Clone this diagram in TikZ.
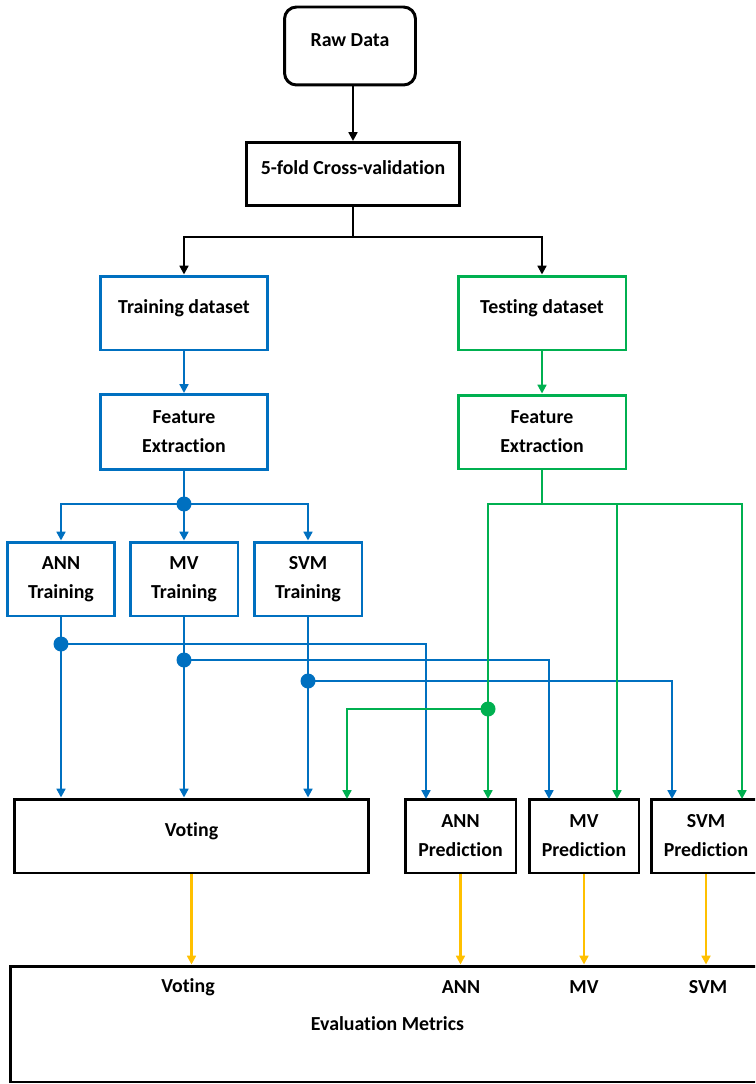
\documentclass[tikz,border=0pt]{standalone}
\usepackage{fontspec}
\setmainfont{Carlito}[Ligatures=NoCommon]
\usetikzlibrary{arrows.meta,calc,positioning}
\definecolor{mblue}{RGB}{0,112,192}
\definecolor{mgreen}{RGB}{0,176,80}
\definecolor{myellow}{RGB}{255,192,0}
\tikzset{
  box/.style={draw,line width=1.7pt,align=center,inner sep=2pt,font=\bfseries\fontsize{11.3}{16.5}\selectfont},
  kbox/.style={box,draw=black},
  bbox/.style={box,draw=mblue},
  gbox/.style={box,draw=mgreen},
  oneln/.style={text height=8pt,text depth=7.5pt},
  lbl/.style={font=\bfseries\fontsize{11.3}{16.5}\selectfont},
  tip/.style={-{Triangle[width=5pt,length=5pt]}},
  kln/.style={line width=1.6pt,draw=black},
  bln/.style={line width=1.2pt,draw=mblue},
  gln/.style={line width=1.2pt,draw=mgreen},
  karr/.style={kln,tip},
  barr/.style={bln,tip},
  garr/.style={gln,tip},
  yarr/.style={line width=1.4pt,draw=myellow,tip},
  bdot/.style={fill=mblue},
  gdot/.style={fill=mgreen}
}
\begin{document}
\begin{tikzpicture}[x=0.02cm,y=-0.02cm]
\clip (0,0) rectangle (755,1084);
\node[kbox,oneln,rounded corners=0.24cm,minimum width=2.62cm,minimum height=1.56cm] (raw) at (350,46) {Raw Data};
\node[kbox,oneln,minimum width=4.28cm,minimum height=1.26cm] (cv) at (353,174) {5-fold Cross-validation};
\node[bbox,oneln,minimum width=3.36cm,minimum height=1.48cm] (train) at (184,313) {Training dataset};
\node[gbox,oneln,minimum width=3.36cm,minimum height=1.48cm] (test) at (542,313) {Testing dataset};
\node[bbox,minimum width=3.34cm,minimum height=1.5cm] (feA) at (184,432) {Feature\\Extraction};
\node[gbox,minimum width=3.36cm,minimum height=1.48cm] (feB) at (542,432) {Feature\\Extraction};
\node[bbox,minimum width=2.14cm,minimum height=1.48cm] (annT) at (61,579) {ANN\\Training};
\node[bbox,minimum width=2.16cm,minimum height=1.48cm] (mvT) at (184,579) {MV\\Training};
\node[bbox,minimum width=2.16cm,minimum height=1.48cm] (svmT) at (308,579) {SVM\\Training};
\node[kbox,oneln,minimum width=7.1cm,minimum height=1.48cm] (vote) at (191.5,836) {Voting};
\node[kbox,minimum width=2.22cm,minimum height=1.48cm] (annP) at (460.5,836) {ANN\\Prediction};
\node[kbox,minimum width=2.2cm,minimum height=1.48cm] (mvP) at (584,836) {MV\\Prediction};
\node[kbox,minimum width=2.2cm,minimum height=1.48cm] (svmP) at (706,836) {SVM\\Prediction};
\node[kbox,minimum width=15.1cm,minimum height=2.32cm] (eval) at (387.5,1024) {Evaluation Metrics};
\node[lbl] (evV) at (188,987) {Voting};
\node[lbl] (evA) at (461,987) {ANN};
\node[lbl] (evM) at (584,987) {MV};
\node[lbl] (evS) at (708,987) {SVM};

\coordinate (split) at (353,237);
\draw[karr] (raw.south -| cv.north) -- (cv.north);
\draw[kln] (cv.south) -- (split);
\draw[karr] (split) -| (train.north);
\draw[karr] (split) -| (test.north);

\draw[barr] (train.south) -- (feA.north);
\coordinate (bS) at (184,504);
\draw[bln] (feA.south) -- (bS);
\draw[barr] (bS) -| (annT.north);
\draw[barr] (bS) -- (mvT.north);
\draw[barr] (bS) -| (svmT.north);

\coordinate (jA) at (61,644);
\coordinate (jM) at (184,660);
\coordinate (jS) at (308,681);
\coordinate (aB) at (426,799);
\coordinate (mB) at (549,799);
\coordinate (sB) at (672,799);
\draw[barr] (annT.south) -- (annT.south |- vote.north);
\draw[barr] (mvT.south) -- (mvT.south |- vote.north);
\draw[barr] (svmT.south) -- (svmT.south |- vote.north);
\draw[barr] (jA) -| (aB);
\draw[barr] (jM) -| (mB);
\draw[barr] (jS) -| (sB);

\draw[garr] (test.south) -- (feB.north);
\coordinate (gS) at (542,504);
\coordinate (mG0) at (617,504);
\coordinate (aG) at (488,799);
\coordinate (mG) at (617,799);
\coordinate (sG) at (742,799);
\coordinate (jG) at (488,709);
\coordinate (vG) at (347,799);
\draw[gln] (feB.south) -- (gS);
\draw[garr] (gS) -| (aG);
\draw[garr] (gS) -| (sG);
\draw[garr] (mG0) -- (mG);
\draw[garr] (jG) -| (vG);

\draw[yarr] (vote.south) -- (vote.south |- eval.north);
\draw[yarr] (annP.south) -- (annP.south |- eval.north);
\draw[yarr] (mvP.south) -- (mvP.south |- eval.north);
\draw[yarr] (svmP.south) -- (svmP.south |- eval.north);

\fill[bdot] (bS) circle (0.15cm);
\fill[bdot] (jA) circle (0.15cm);
\fill[bdot] (jM) circle (0.15cm);
\fill[bdot] (jS) circle (0.15cm);
\fill[gdot] (jG) circle (0.15cm);
\end{tikzpicture}
\end{document}
